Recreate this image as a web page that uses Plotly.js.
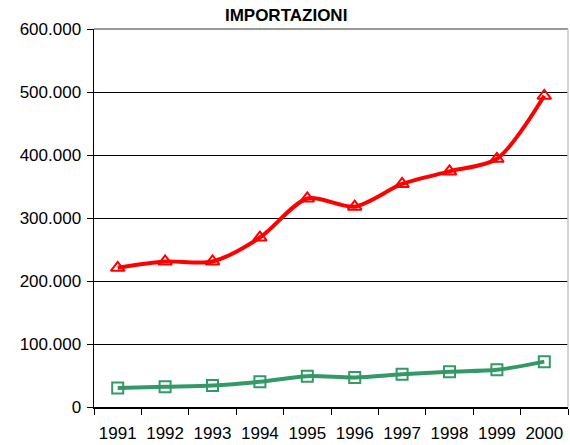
<!DOCTYPE html>
<html>
<head>
<meta charset="utf-8">
<script src="https://cdn.plot.ly/plotly-3.0.1.min.js"></script>
<style>
  html, body { margin: 0; padding: 0; background: #fff; }
  #chart { width: 570px; height: 445px; }
</style>
</head>
<body>
<div id="chart"></div>
<script>
// Importazioni, anni 1991-2000
const years = ['1991', '1992', '1993', '1994', '1995', '1996', '1997', '1998', '1999', '2000'];
const redSeries = [221000, 231000, 231000, 269000, 331000, 318000, 354000, 374000, 394000, 494000];
const greenSeries = [30000, 32000, 34000, 40000, 49000, 47000, 52000, 56000, 59000, 72000];
const yTicks = [0, 100000, 200000, 300000, 400000, 500000, 600000];

const font = 'Arial, "Liberation Sans", sans-serif';

const traces = [
    {
        x: years,
        y: redSeries,
        type: 'scatter',
        mode: 'lines+markers',
        line: { color: '#ff0000', width: 4, shape: 'spline', smoothing: 0.8 },
        marker: { symbol: 'triangle-up-open', size: 12, color: '#ff0000', line: { width: 2, color: '#ff0000' } },
        hoverinfo: 'x+y',
    },
    {
        x: years,
        y: greenSeries,
        type: 'scatter',
        mode: 'lines+markers',
        line: { color: '#339966', width: 4, shape: 'spline', smoothing: 0.8 },
        marker: { symbol: 'square-open', size: 11, color: '#339966', line: { width: 2, color: '#339966' } },
        hoverinfo: 'x+y',
    },
];

const layout = {
    width: 570,
    height: 445,
    margin: { l: 94, r: 2, t: 29, b: 38 },
    paper_bgcolor: '#ffffff',
    plot_bgcolor: '#ffffff',
    showlegend: false,
    separators: ',.',
    font: { family: font, color: '#000', size: 17 },
    title: {
        text: '<b>IMPORTAZIONI</b>',
        font: { family: font, size: 17, color: '#000' },
        x: 0.502,
        xref: 'container',
        xanchor: 'center',
        y: 1,
        yref: 'container',
        yanchor: 'top',
        pad: { t: 9 },
    },
    xaxis: {
        type: 'category',
        range: [-0.5, 9.5],
        showgrid: false,
        showline: true,
        linecolor: '#000',
        linewidth: 1.5,
        ticks: 'outside',
        tickson: 'boundaries',
        ticklen: 6,
        tickcolor: '#000',
        tickfont: { family: font, size: 17, color: '#000' },
        ticklabelstandoff: 10,
        zeroline: false,
        fixedrange: true,
    },
    yaxis: {
        range: [0, 600000],
        tickvals: yTicks,
        tickformat: ',d',
        showgrid: true,
        gridcolor: '#000',
        gridwidth: 1,
        showline: true,
        linecolor: '#000',
        linewidth: 1.5,
        ticks: 'outside',
        ticklen: 6,
        tickcolor: '#000',
        tickfont: { family: font, size: 17, color: '#000' },
        ticklabelstandoff: 2,
        zeroline: false,
        fixedrange: true,
    },
    shapes: [
        // plot area border: top and right in gray
        { type: 'line', xref: 'paper', yref: 'paper', x0: 0, x1: 1, y0: 1, y1: 1, line: { color: '#999', width: 2 }, layer: 'above' },
        { type: 'line', xref: 'paper', yref: 'paper', x0: 1, x1: 1, y0: 0, y1: 1, line: { color: '#c8c8c8', width: 1.5 }, layer: 'above' },
    ],
};

Plotly.newPlot('chart', traces, layout, { displayModeBar: false, staticPlot: true });
</script>
</body>
</html>
